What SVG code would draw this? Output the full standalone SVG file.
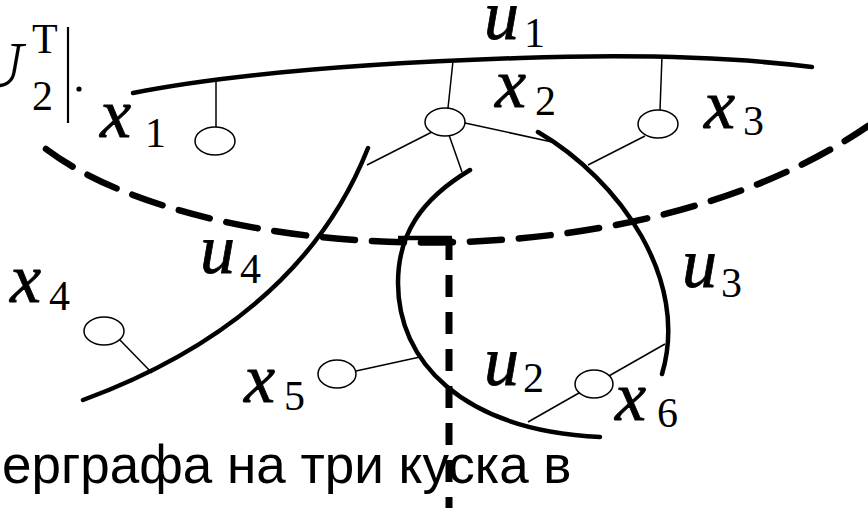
<svg xmlns="http://www.w3.org/2000/svg" width="868" height="508" viewBox="0 0 868 508">
<style>
.edge{fill:none;stroke:#000;stroke-width:4.5;stroke-linecap:round}
.thin{fill:none;stroke:#000;stroke-width:1.5}
.dash{fill:none;stroke:#000;stroke-width:6.5;stroke-dasharray:32 17;stroke-linecap:round}
.vert{fill:none;stroke:#000;stroke-width:7;stroke-dasharray:22 15}
.node{fill:#fff;stroke:#000;stroke-width:1.5}
.v{font-family:"Liberation Serif","Times New Roman",serif;font-style:italic;font-size:70px;fill:#000;stroke:#000;stroke-width:0.8}
.s{font-family:"Liberation Serif","Times New Roman",serif;font-size:42px;fill:#000}
.cap{font-family:"Liberation Sans",Arial,sans-serif;font-size:53px;fill:#000}
</style>
<rect width="868" height="508" fill="#fff"/>
<text class="cap" x="2" y="483">ерграфа на три куска в</text>
<!-- formula fragment -->
<text x="-25" y="87" font-family="Liberation Serif, Times New Roman, serif" font-style="italic" font-size="66">U</text>
<text class="s" x="32" y="110" font-size="40">2</text>
<text class="s" x="32" y="53" font-size="34">T</text>
<line x1="68" y1="27" x2="68" y2="123" stroke="#000" stroke-width="2.2"/>
<circle cx="79" cy="89" r="2.6" fill="#000"/>
<g id="connectors">
<path class="dash" d="M46,149 C200,265 630,290 868,126"/>
<path d="M398,238 H452" stroke="#000" stroke-width="4.5" fill="none"/>
<path class="vert" d="M449,238 V508"/>
<line class="thin" x1="216" y1="80" x2="216" y2="128"/>
<line class="thin" x1="453" y1="61" x2="448" y2="108"/>
<line class="thin" x1="662" y1="56" x2="660" y2="110"/>
<line class="thin" x1="432" y1="132" x2="367" y2="165"/>
<line class="thin" x1="449" y1="135" x2="462" y2="172"/>
<line class="thin" x1="465" y1="123" x2="552" y2="142"/>
<line class="thin" x1="645" y1="136" x2="588" y2="165"/>
<line class="thin" x1="119" y1="339" x2="152" y2="373"/>
<line class="thin" x1="356" y1="371" x2="420" y2="357"/>
<line class="thin" x1="528" y1="422" x2="665" y2="344"/>
</g>
<g id="u1"><path class="edge" d="M133,93 C250,70 400,62 520,58 C640,54 740,58 812,67"/>
<text class="v" x="484" y="39">u</text><text class="s" x="524" y="47">1</text></g>
<g id="u2"><path class="edge" d="M470,170 C420,200 398,235 398,283 C398,360 460,430 600,437"/>
<text class="v" x="484" y="385">u</text><text class="s" x="523" y="392">2</text></g>
<g id="u3"><path class="edge" d="M538,132 C620,180 690,280 662,374"/>
<text class="v" x="682" y="287">u</text><text class="s" x="721" y="297">3</text></g>
<g id="u4"><path class="edge" d="M368,148 Q300,320 83,400"/>
<text class="v" x="200" y="273">u</text><text class="s" x="240" y="283">4</text></g>
<g id="x1"><ellipse class="node" cx="215" cy="141" rx="20" ry="14"/>
<text class="v" x="100" y="137">x</text><text class="s" x="145" y="147">1</text></g>
<g id="x2"><ellipse class="node" cx="445" cy="122" rx="20" ry="14"/>
<text class="v" x="495" y="107">x</text><text class="s" x="535" y="115">2</text></g>
<g id="x3"><ellipse class="node" cx="658" cy="124" rx="20" ry="14"/>
<text class="v" x="704" y="128">x</text><text class="s" x="743" y="135">3</text></g>
<g id="x4"><ellipse class="node" cx="104" cy="331" rx="20" ry="14"/>
<text class="v" x="10" y="302">x</text><text class="s" x="49" y="310">4</text></g>
<g id="x5"><ellipse class="node" cx="337" cy="374" rx="19" ry="14"/>
<text class="v" x="244" y="402">x</text><text class="s" x="284" y="410">5</text></g>
<g id="x6"><ellipse class="node" cx="594" cy="384" rx="19" ry="14"/>
<text class="v" x="615" y="420">x</text><text class="s" x="657" y="427">6</text></g>
</svg>
